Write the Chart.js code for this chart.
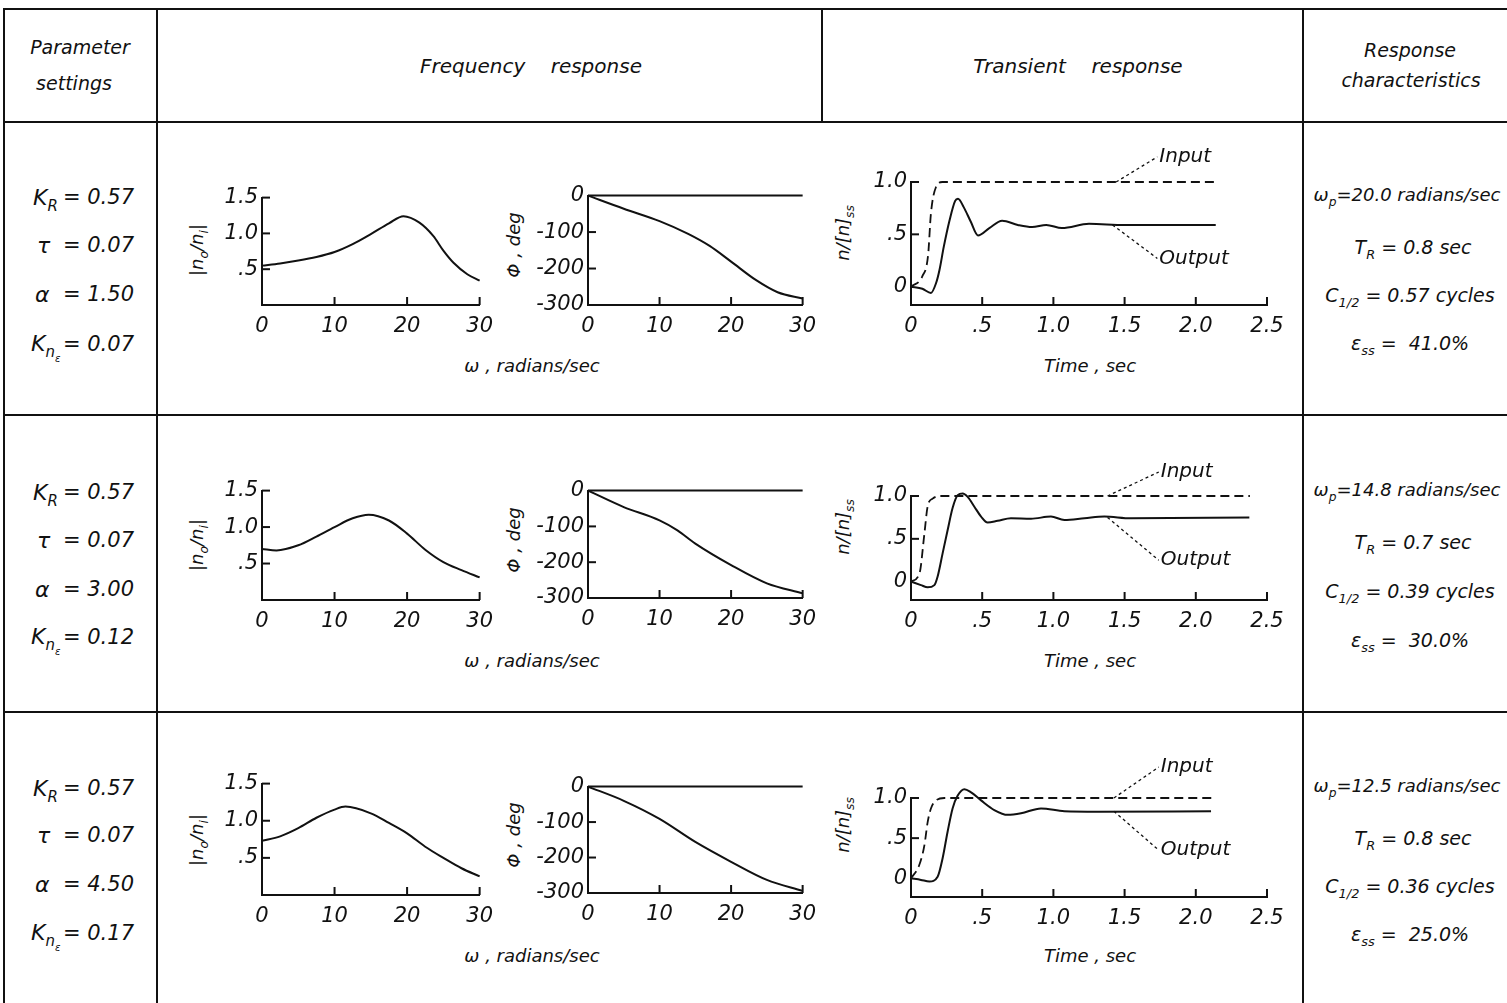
<!DOCTYPE html>
<html><head><meta charset="utf-8">
<script src="https://cdn.jsdelivr.net/npm/chart.js@4.4.1/dist/chart.umd.min.js"></script>
<style>
html,body{margin:0;padding:0;background:#fff;}
#page{position:relative;width:1507px;height:1003px;overflow:hidden;font-family:'DejaVu Sans',sans-serif;font-style:oblique;color:#111;}
.ln{position:absolute;background:#111;}
.t{position:absolute;white-space:nowrap;font-size:19px;line-height:1.2;}
canvas{position:absolute;}
sub{font-size:0.68em;vertical-align:-0.4em;line-height:0;}
</style></head>
<body><div id="page"></div>
<script>
// ---------------- data ----------------
const freqTicksX = [0, 10, 20, 30];
const freqTickLabelsX = ['0', '10', '20', '30'];
const magTicksY = [0.5, 1.0, 1.5];
const magTickLabelsY = ['.5', '1.0', '1.5'];
const phaseTicksY = [-300, -200, -100, 0];
const phaseTickLabelsY = ['-300', '-200', '-100', '0'];
const timeTicksX = [0, 0.5, 1.0, 1.5, 2.0, 2.5];
const timeTickLabelsX = ['0', '.5', '1.0', '1.5', '2.0', '2.5'];
const respTicksY = [0, 0.5, 1.0];
const respTickLabelsY = ['0', '.5', '1.0'];

// magnitude |n0/ni| vs omega
const magW1 = [0, 2.5, 5, 7.5, 10, 12.5, 15, 17.5, 19.5, 21.7, 23.6, 25, 26.4, 28.3, 30];
const mag1  = [0.55, 0.58, 0.62, 0.67, 0.74, 0.85, 0.99, 1.14, 1.24, 1.15, 0.965, 0.76, 0.59, 0.43, 0.34];
const magW2 = [0, 2, 5, 7.5, 10, 12.5, 14.7, 17.5, 20, 22.5, 25, 27.5, 30];
const mag2  = [0.70, 0.68, 0.75, 0.87, 1.0, 1.12, 1.17, 1.09, 0.91, 0.69, 0.52, 0.41, 0.31];
const magW3 = [0, 2.5, 5, 7.5, 10, 11.5, 15, 17.5, 20, 22.5, 25, 27.5, 30];
const mag3  = [0.73, 0.79, 0.90, 1.04, 1.15, 1.19, 1.10, 0.97, 0.83, 0.65, 0.50, 0.36, 0.25];

// phase, deg vs omega
const phW1 = [0, 5, 10, 14, 17, 20, 23.5, 26.5, 30];
const ph1  = [0, -36, -70, -105, -138, -181, -232, -265, -282];
const phW2 = [0, 5, 10, 12.5, 15, 20, 25, 30];
const ph2  = [0, -46, -83, -111, -148, -208, -259, -287];
const phW3 = [0, 5, 10, 15, 20, 25, 30];
const ph3  = [0, -40, -91, -156, -212, -263, -294];
const phZeroW = [0, 30];
const phZero  = [0, 0];

// transient: input (dashed) and output
const inT1 = [0, 0.08, 0.12, 0.14, 0.175, 0.22, 2.14];
const in1  = [0, 0.10, 0.30, 0.70, 0.95, 1.0, 1.0];
const outT1 = [0, 0.08, 0.14, 0.175, 0.2, 0.23, 0.27, 0.31, 0.33, 0.37, 0.42, 0.47, 0.55, 0.64, 0.75, 0.85, 0.95, 1.06, 1.25, 1.5, 2.14];
const out1  = [0, -0.02, -0.06, 0.03, 0.16, 0.38, 0.63, 0.82, 0.84, 0.76, 0.62, 0.49, 0.56, 0.63, 0.59, 0.57, 0.59, 0.56, 0.60, 0.59, 0.59];

const inT2 = [0, 0.06, 0.094, 0.117, 0.152, 0.21, 2.38];
const in2  = [0, 0.10, 0.56, 0.88, 0.97, 1.0, 1.0];
const outT2 = [0, 0.07, 0.117, 0.164, 0.187, 0.222, 0.257, 0.292, 0.328, 0.363, 0.398, 0.445, 0.492, 0.538, 0.608, 0.702, 0.843, 0.983, 1.077, 1.218, 1.358, 1.545, 2.376];
const out2  = [0, -0.04, -0.066, -0.04, 0.06, 0.33, 0.60, 0.86, 1.01, 1.03, 0.99, 0.875, 0.76, 0.69, 0.71, 0.74, 0.735, 0.76, 0.72, 0.74, 0.76, 0.74, 0.75];

const inT3 = [0, 0.058, 0.094, 0.117, 0.14, 0.176, 0.234, 2.11];
const in3  = [0, 0.165, 0.41, 0.70, 0.87, 0.97, 1.0, 1.0];
const outT3 = [0, 0.07, 0.129, 0.187, 0.222, 0.257, 0.292, 0.328, 0.375, 0.422, 0.492, 0.585, 0.679, 0.773, 0.913, 1.077, 1.311, 2.107];
const out3  = [0, -0.02, -0.04, 0.02, 0.25, 0.58, 0.87, 1.03, 1.11, 1.07, 0.97, 0.85, 0.79, 0.81, 0.87, 0.835, 0.83, 0.835];

// table text values
const paramKR  = ['0.57', '0.57', '0.57'];
const paramTau = ['0.07', '0.07', '0.07'];
const paramA   = ['1.50', '3.00', '4.50'];
const paramKn  = ['0.07', '0.12', '0.17'];
const charWp   = ['20.0', '14.8', '12.5'];
const charTR   = ['0.8', '0.7', '0.8'];
const charC    = ['0.57', '0.39', '0.36'];
const charEss  = ['41.0', '30.0', '25.0'];

// ---------------- layout (page positions) ----------------
const rowLines = [121, 414, 711];
const paramY = [[198, 246, 295, 345], [493, 541, 590, 638], [789, 836, 885, 934]];
const charY  = [[195, 247, 295, 343], [490, 542, 591, 640], [786, 838, 886, 934]];
const magGeo = [{t:197,b:305},{t:490,b:600},{t:783,b:895}];
const phGeo  = [{t:195,b:305},{t:490,b:598},{t:786,b:893}];
const trGeo  = [{t:182,b:305,min:-0.175},{t:496,b:600,min:-0.214},{t:798,b:897,min:-0.233}];
const xTitleY = [366, 661, 956];
const magTitleY = [250, 545, 840];
const phTitleY = [245, 540, 835];
const trTitleY = [233, 527, 825];
const leaderSpec = [
  {inp:[1.44,1.0,1.73,1.24], out:[1.415,0.59,1.73,0.27]},
  {inp:[1.38,1.0,1.74,1.28], out:[1.38,0.75,1.74,0.25]},
  {inp:[1.425,1.0,1.74,1.385], out:[1.425,0.835,1.74,0.35]}
];

// ---------------- page helpers ----------------
const page = document.getElementById('page');
function line(x, y, w, h) {
  const d = document.createElement('div'); d.className = 'ln';
  Object.assign(d.style, {left:x+'px', top:y+'px', width:w+'px', height:h+'px'});
  page.appendChild(d);
}
function txt(html, x, y, o = {}) {
  const d = document.createElement('div'); d.className = 't'; d.innerHTML = html;
  d.style.left = x + 'px'; d.style.top = y + 'px';
  const ax = o.align === 'left' ? '0' : (o.align === 'right' ? '-100%' : '-50%');
  d.style.transform = `translate(${ax},-50%)` + (o.rot ? ` rotate(${o.rot}deg)` : '');
  if (o.size) d.style.fontSize = o.size + 'px';
  page.appendChild(d);
}

// table lines
line(3, 8, 1504, 2);
rowLines.forEach(y => line(3, y, 1504, 2));
line(3, 8, 2, 995);
line(156, 8, 2, 995);
line(1302, 8, 2, 995);
line(821, 8, 2, 114);

// header
txt('Parameter', 80, 47, {size:19});
txt('settings', 74, 83, {size:19});
txt('Frequency&nbsp;&nbsp;&nbsp; response', 531, 66, {size:20});
txt('Transient&nbsp;&nbsp;&nbsp; response', 1078, 66, {size:20});
txt('Response', 1410, 50, {size:19});
txt('characteristics', 1411, 80, {size:19});

// parameter and characteristics columns
for (let r = 0; r < 3; r++) {
  const py = paramY[r];
  txt('K<sub>R</sub>', 33, py[0], {align:'left', size:22});
  txt('τ', 37, py[1], {align:'left', size:22});
  txt('α', 35, py[2], {align:'left', size:22});
  txt('K<sub>n<sub>ε</sub></sub>', 31, py[3], {align:'left', size:22});
  txt('= ' + paramKR[r], 134, py[0], {align:'right', size:21});
  txt('= ' + paramTau[r], 134, py[1], {align:'right', size:21});
  txt('= ' + paramA[r], 134, py[2], {align:'right', size:21});
  txt('= ' + paramKn[r], 134, py[3], {align:'right', size:21});
  const cy = charY[r];
  txt('ω<sub>p</sub>=' + charWp[r] + ' radians/sec', 1407, cy[0], {size:18});
  txt('T<sub>R</sub> = ' + charTR[r] + ' sec', 1413, cy[1], {size:19});
  txt('C<sub>1/2</sub> = ' + charC[r] + ' cycles', 1410, cy[2], {size:19});
  txt('ε<sub>ss</sub> = &nbsp;' + charEss[r] + '%', 1410, cy[3], {size:19});
  // axis titles
  txt('|n<sub>o</sub>/n<sub>i</sub>|', 197, magTitleY[r], {rot:-90, size:18});
  txt('Φ , deg', 514, phTitleY[r], {rot:-90, size:18});
  txt('n/[n]<sub>ss</sub>', 843, trTitleY[r], {rot:-90, size:18});
  txt('ω , radians/sec', 532, xTitleY[r], {size:18});
  txt('Time , sec', 1090, xTitleY[r], {size:18});
}

// ---------------- charts ----------------
const tickFont = {family:'DejaVu Sans', size:21, style:'italic'};
function pts(xs, ys) { return xs.map((x, i) => ({x, y: ys[i]})); }

function inwardTicks(xt, yt) {
  return {
    id: 'inwardTicks',
    afterDraw(chart) {
      const {ctx, chartArea: a, scales: {x, y}} = chart;
      ctx.save(); ctx.strokeStyle = '#111'; ctx.lineWidth = 2;
      xt.forEach(v => { const px = x.getPixelForValue(v); ctx.beginPath(); ctx.moveTo(px, a.bottom); ctx.lineTo(px, a.bottom - 8); ctx.stroke(); });
      yt.forEach(v => { const py = y.getPixelForValue(v); ctx.beginPath(); ctx.moveTo(a.left, py); ctx.lineTo(a.left + 8, py); ctx.stroke(); });
      ctx.restore();
    }
  };
}
function leaders(items) {
  return {
    id: 'leaders',
    afterDraw(chart) {
      const {ctx, scales: {x, y}} = chart;
      ctx.save();
      items.forEach(it => {
        const x1 = x.getPixelForValue(it.s[0]), y1 = y.getPixelForValue(it.s[1]);
        const x2 = x.getPixelForValue(it.s[2]), y2 = y.getPixelForValue(it.s[3]);
        ctx.setLineDash([3, 3]); ctx.lineWidth = 1.3; ctx.strokeStyle = '#111';
        ctx.beginPath(); ctx.moveTo(x1, y1); ctx.lineTo(x2, y2); ctx.stroke();
        ctx.setLineDash([]);
        ctx.font = 'italic 20px "DejaVu Sans"'; ctx.fillStyle = '#111';
        ctx.textBaseline = 'middle'; ctx.textAlign = 'left';
        ctx.fillText(it.text, x2 + 2, y2);
      });
      ctx.restore();
    }
  };
}

function makeChart(g, datasets, sc, plugins) {
  const c = document.createElement('canvas');
  const W = g.r - g.l + g.pl + g.pr, H = g.b - g.t + g.pt + g.pb;
  c.width = W; c.height = H;
  c.style.width = W + 'px'; c.style.height = H + 'px';
  c.style.left = (g.l - g.pl) + 'px'; c.style.top = (g.t - g.pt) + 'px';
  page.appendChild(c);
  const axisCommon = {
    grid: {display:false, drawTicks:false},
    border: {display:true, color:'#111', width:2}
  };
  new Chart(c, {
    type: 'line',
    data: {datasets},
    options: {
      responsive:false, animation:false, devicePixelRatio:1,
      layout: {padding: {left:0, right:g.pr, top:g.pt, bottom:0}},
      plugins: {legend:{display:false}, tooltip:{enabled:false}},
      elements: {point:{radius:0}, line:{borderColor:'#111', borderWidth:2, cubicInterpolationMode:'monotone', fill:false}},
      scales: {
        x: Object.assign({
          type:'linear', min:sc.xmin, max:sc.xmax,
          afterFit: s => { s.height = g.pb; },
          afterBuildTicks: s => { s.ticks = sc.xt.map(v => ({value:v})); },
          ticks: {autoSkip:false, maxRotation:0, padding:9, color:'#111', font:tickFont, callback:(v, i) => sc.xl[i]}
        }, axisCommon),
        y: Object.assign({
          type:'linear', min:sc.ymin, max:sc.ymax,
          afterFit: s => { s.width = g.pl; },
          afterBuildTicks: s => { s.ticks = sc.yt.map(v => ({value:v})); },
          ticks: {autoSkip:false, padding:4, color:'#111', font:tickFont, callback:(v, i) => sc.yl[i]}
        }, axisCommon)
      }
    },
    plugins
  });
}

const magData = [[magW1, mag1], [magW2, mag2], [magW3, mag3]];
const phData = [[phW1, ph1], [phW2, ph2], [phW3, ph3]];
const trData = [[inT1, in1, outT1, out1], [inT2, in2, outT2, out2], [inT3, in3, outT3, out3]];

for (let r = 0; r < 3; r++) {
  // magnitude
  makeChart({l:262, r:480, t:magGeo[r].t, b:magGeo[r].b, pl:62, pr:22, pt:16, pb:40},
    [{data: pts(magData[r][0], magData[r][1]), clip:false}],
    {xmin:0, xmax:30, ymin:0, ymax:1.5, xt:freqTicksX, xl:freqTickLabelsX, yt:magTicksY, yl:magTickLabelsY},
    [inwardTicks([10, 20, 30], [0.5, 1.0, 1.5])]);
  // phase
  makeChart({l:588, r:803, t:phGeo[r].t, b:phGeo[r].b, pl:62, pr:22, pt:16, pb:40},
    [{data: pts(phZeroW, phZero), clip:false}, {data: pts(phData[r][0], phData[r][1]), clip:false}],
    {xmin:0, xmax:30, ymin:-300, ymax:0, xt:freqTicksX, xl:freqTickLabelsX, yt:phaseTicksY, yl:phaseTickLabelsY},
    [inwardTicks([10, 20, 30], [-100, -200])]);
  // transient
  const L = leaderSpec[r];
  makeChart({l:911, r:1267, t:trGeo[r].t, b:trGeo[r].b, pl:60, pr:26, pt:52, pb:40},
    [{data: pts(trData[r][0], trData[r][1]), borderDash:[9, 5], borderWidth:1.8, clip:false},
     {data: pts(trData[r][2], trData[r][3]), clip:false}],
    {xmin:0, xmax:2.5, ymin:trGeo[r].min, ymax:1.0, xt:timeTicksX, xl:timeTickLabelsX, yt:respTicksY, yl:respTickLabelsY},
    [inwardTicks([0.5, 1.0, 1.5, 2.0, 2.5], [0.5, 1.0]),
     leaders([{s:L.inp, text:'Input'}, {s:L.out, text:'Output'}])]);
}
</script>
</body></html>
